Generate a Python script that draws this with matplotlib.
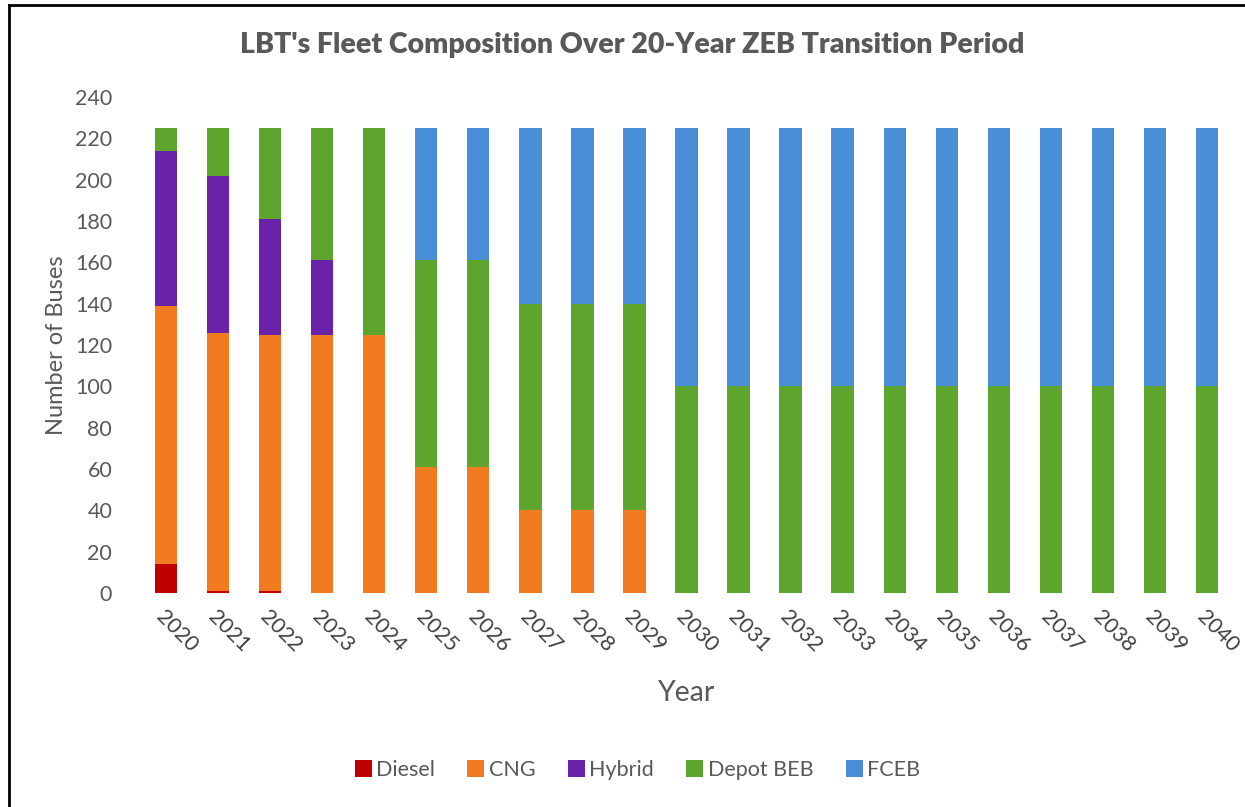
import matplotlib
matplotlib.use("Agg")
import matplotlib.pyplot as plt
import numpy as np
from matplotlib.lines import Line2D

years = [str(y) for y in range(2020, 2041)]
diesel = [14, 1, 1, 0, 0, 0, 0, 0, 0, 0, 0, 0, 0, 0, 0, 0, 0, 0, 0, 0, 0]
cng = [125, 125, 124, 125, 125, 61, 61, 40, 40, 40, 0, 0, 0, 0, 0, 0, 0, 0, 0, 0, 0]
hybrid = [75, 76, 56, 36, 0, 0, 0, 0, 0, 0, 0, 0, 0, 0, 0, 0, 0, 0, 0, 0, 0]
depot_beb = [11, 23, 44, 64, 100, 100, 100, 100, 100, 100, 100, 100, 100, 100, 100, 100, 100, 100, 100, 100, 100]
fceb = [0, 0, 0, 0, 0, 64, 64, 85, 85, 85, 125, 125, 125, 125, 125, 125, 125, 125, 125, 125, 125]

series = [("Diesel", diesel, "#C00000"),
          ("CNG", cng, "#F27B22"),
          ("Hybrid", hybrid, "#6A22A8"),
          ("Depot BEB", depot_beb, "#5EA52E"),
          ("FCEB", fceb, "#4A8ED8")]

plt.rcParams['font.family'] = ['Lato', 'DejaVu Sans']
txt = "#595959"

fig = plt.figure(figsize=(12.45, 8.07), dpi=100)
ax = fig.add_axes([0.1124, 0.2652, 0.878, 0.6146])

x = np.arange(len(years))
bottom = np.zeros(len(years))
for name, vals, col in series:
    v = np.array(vals, dtype=float)
    ax.bar(x, v, width=0.43, bottom=bottom, color=col, label=name, zorder=3)
    bottom += v

ax.set_xlim(-0.5, len(years) - 0.5)
ax.set_ylim(0, 240)
ax.set_yticks(np.arange(0, 241, 20))
ax.set_xticks(x)
ax.set_xticklabels(years, rotation=-45, ha='left', va='top', rotation_mode='anchor')
ax.tick_params(axis='both', length=0, labelsize=15.5)
ax.tick_params(axis='y', colors=txt, pad=20)
ax.tick_params(axis='x', colors="#404040", pad=10)
for s in ax.spines.values():
    s.set_visible(False)

ax.set_ylabel("Number of Buses", fontsize=17, color=txt, labelpad=6)
ax.set_xlabel("Year", fontsize=20.5, color=txt, labelpad=17)

fig.text(0.508, 0.944, "LBT's Fleet Composition Over 20-Year ZEB Transition Period",
         ha='center', va='center', fontsize=20.5, fontweight='heavy', color=txt)

leg = fig.legend(loc='center', bbox_to_anchor=(0.512, 0.046), ncol=5, frameon=False,
                 fontsize=15.5, handlelength=0.8, handleheight=0.8, handletextpad=0.2,
                 columnspacing=1.5, labelcolor=txt)

# figure border (left and top)
fig.add_artist(Line2D([9/1245, 9/1245], [0, 1 - 5/807], transform=fig.transFigure, color='black', lw=2))
fig.add_artist(Line2D([9/1245, 1], [1 - 5/807, 1 - 5/807], transform=fig.transFigure, color='black', lw=2))

fig.savefig("out.png", dpi=100)
